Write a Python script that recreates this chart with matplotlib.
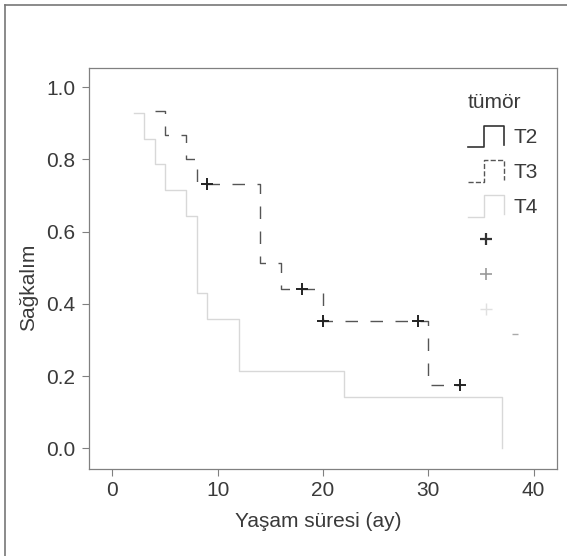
"""Kaplan-Meier survival curves by tumour stage (scanned figure redraw)."""
import matplotlib
matplotlib.use("Agg")
import matplotlib.pyplot as plt
import numpy as np
from matplotlib.legend_handler import HandlerBase
from matplotlib.lines import Line2D

# --- data --------------------------------------------------------------
# T3 curve (dashed): step starts, survival after each step
t3_times = [4, 5, 7, 8, 14, 16, 20, 30, 33]
t3_surv = [0.933, 0.867, 0.800, 0.733, 0.513, 0.440, 0.352, 0.176, 0.176]
t3_cens_t = [9, 18, 20, 29, 33]
t3_cens_s = [0.733, 0.440, 0.352, 0.352, 0.176]

# T4 curve (very light solid)
t4_times = [2, 3, 4, 5, 7, 8, 9, 12, 22, 37]
t4_surv = [0.929, 0.857, 0.786, 0.714, 0.643, 0.429, 0.357, 0.214, 0.143, 0.0]

# faint leftover of the scan (short dash right of the legend)
dash_t = [38.2]
dash_s = [0.316]

group_labels = ["T2", "T3", "T4"]
x_ticks = [0, 10, 20, 30, 40]
y_ticks = [0.0, 0.2, 0.4, 0.6, 0.8, 1.0]

TEXT = "#3a3a3a"
SPINE = "#808080"
T2_COL = "#333333"
T3_COL = "#555555"
T4_COL = "#d8d8d8"
FS = 15

plt.rcParams["font.family"] = ["Liberation Sans", "DejaVu Sans"]


class StepHandler(HandlerBase):
    """Draws the little _|~| step glyph used in the legend."""

    def create_artists(self, legend, orig_handle, xdescent, ydescent,
                       width, height, fontsize, trans):
        xs = np.array([0, 0.45, 0.45, 1.0, 1.0]) * width - xdescent
        ys = np.array([0.0, 0.0, 1.0, 1.0, 0.1]) * height - ydescent
        line = Line2D(xs, ys, color=orig_handle.get_color(),
                      linestyle=orig_handle.get_linestyle(),
                      linewidth=orig_handle.get_linewidth())
        line.set_transform(trans)
        return [line]


fig = plt.figure(figsize=(5.67, 5.56), dpi=100)
ax = fig.add_axes([0.157, 0.1565, 0.825, 0.7212])

ax.step(t3_times, t3_surv, where="post", color=T3_COL, lw=1.0,
        linestyle=(0, (9, 9)))
ax.step(t4_times, t4_surv, where="post", color=T4_COL, lw=1.0)
ax.plot(t3_cens_t, t3_cens_s, linestyle="none", marker="+", color="#222222",
        markersize=8, mew=1.4)
ax.plot(dash_t, dash_s, linestyle="none", marker="_", color="#aaaaaa",
        markersize=4, mew=1.0)

ax.set_xlim(-2.23, 42.2)
ax.set_ylim(-0.057, 1.053)
ax.set_xticks(x_ticks)
ax.set_yticks(y_ticks)
ax.set_yticklabels([f"{v:.1f}" for v in y_ticks])
ax.tick_params(direction="out", length=5, width=0.8, color=SPINE,
               labelcolor=TEXT, labelsize=FS)
ax.tick_params(axis="y", pad=5)
ax.tick_params(axis="x", pad=4)
for sp in ax.spines.values():
    sp.set_color(SPINE)
    sp.set_linewidth(0.9)

ax.set_xlabel("Yaşam süresi (ay)", fontsize=FS, color=TEXT)
ax.set_ylabel("Sağkalım", fontsize=FS, color=TEXT)
ax.xaxis.set_label_coords(0.49, -0.107)
ax.yaxis.set_label_coords(-0.11, 0.454)

handles = [
    Line2D([], [], color=T2_COL, lw=1.2),
    Line2D([], [], color=T3_COL, lw=1.0, linestyle=(0, (2, 2))),
    Line2D([], [], color=T4_COL, lw=1.0),
    Line2D([], [], color="#333333", marker="+", linestyle="none",
           markersize=9, mew=1.6),
    Line2D([], [], color="#999999", marker="+", linestyle="none",
           markersize=9, mew=1.2),
    Line2D([], [], color="#e0e0e0", marker="+", linestyle="none",
           markersize=9, mew=1.0),
]
labels = group_labels + ["", "", ""]
step_h = StepHandler()
leg = ax.legend(handles, labels, title="tümör", loc="upper left",
                bbox_to_anchor=(0.787, 0.9625), frameon=False, borderpad=0,
                fontsize=FS, title_fontsize=FS, handlelength=1.75,
                handleheight=1.2, handletextpad=0.45, labelspacing=0.63,
                alignment="left",
                handler_map={handles[0]: step_h, handles[1]: step_h,
                             handles[2]: step_h})
for txt in leg.get_texts():
    txt.set_color(TEXT)
leg.get_title().set_color(TEXT)

# scanned page border (left and top edges)
fig.add_artist(Line2D([0.009, 0.009], [0.0, 0.991], transform=fig.transFigure,
                      color="#777777", lw=1.2))
fig.add_artist(Line2D([0.009, 1.0], [0.991, 0.991], transform=fig.transFigure,
                      color="#777777", lw=1.2))

fig.savefig("out.png", dpi=100)
